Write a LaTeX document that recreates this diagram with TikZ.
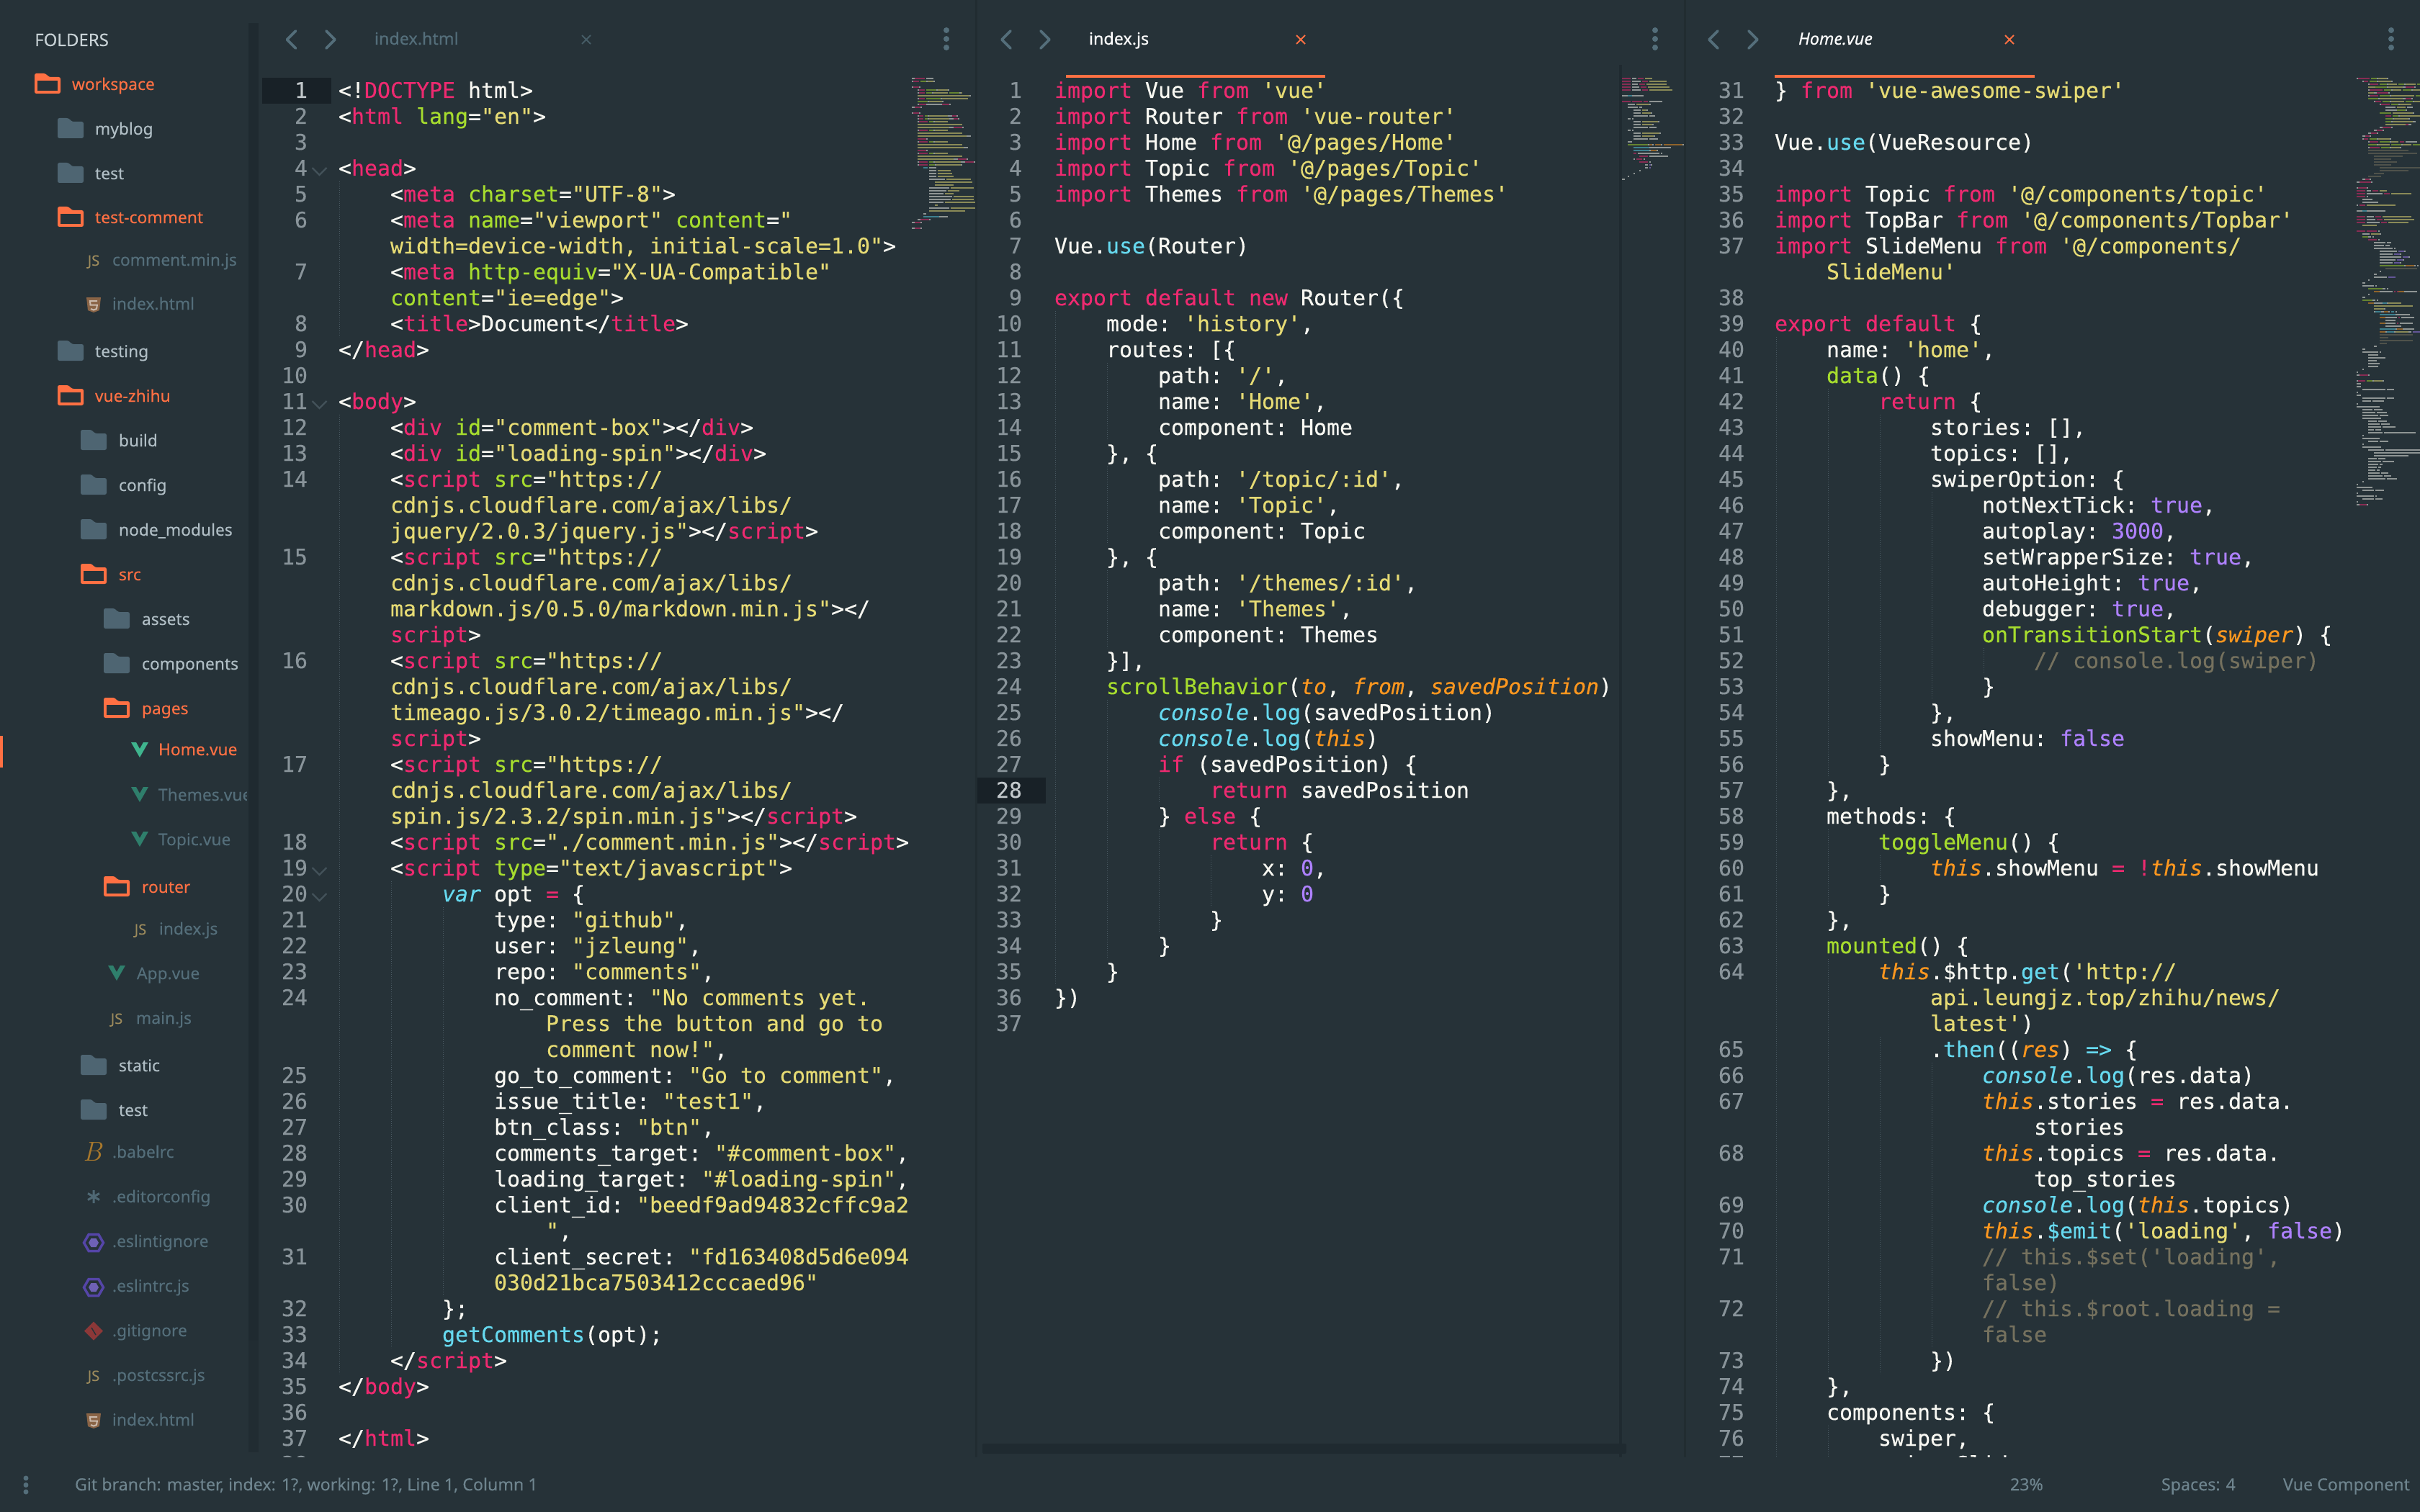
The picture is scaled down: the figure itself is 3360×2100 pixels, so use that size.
\documentclass[tikz,border=0pt]{standalone}
\usepackage{fontspec}
\newfontfamily\codefont{DejaVu Sans Mono}[RawFeature={embolden=0.35}]
\newfontfamily\uifont{Noto Sans}[RawFeature={embolden=0.2}]
\definecolor{bgc}{HTML}{263238}
\definecolor{kwPink}{HTML}{EE2A70}
\definecolor{atGreen}{HTML}{A6DC2E}
\definecolor{stYellow}{HTML}{E6DB74}
\definecolor{fnCyan}{HTML}{66D9EF}
\definecolor{nmPurple}{HTML}{AE81FF}
\definecolor{prOrange}{HTML}{FD971F}
\definecolor{cmGray}{HTML}{75715E}
\definecolor{whText}{HTML}{F8F8F2}
\definecolor{numGray}{HTML}{89949A}
\definecolor{numHi}{HTML}{C2C8CB}
\definecolor{accent}{HTML}{FF7043}
\definecolor{folderG}{HTML}{4E6572}
\definecolor{labelF}{HTML}{B0BEC5}
\definecolor{labelD}{HTML}{546E7A}
\definecolor{hiLine}{HTML}{182127}
\definecolor{barDark}{HTML}{1F2A30}
\definecolor{guideC}{HTML}{4A5A63}
\definecolor{mmK}{HTML}{E0286C}
\definecolor{mmG}{HTML}{9FD02C}
\definecolor{mmY}{HTML}{E6DB74}
\definecolor{mmC}{HTML}{55C8DF}
\definecolor{mmP}{HTML}{9C78F0}
\definecolor{mmO}{HTML}{F09020}
\definecolor{mmD}{HTML}{75715E}
\definecolor{mmW}{HTML}{F0F0EA}
\definecolor{mmS}{HTML}{263238}
\newcommand\cK[1]{\textcolor{kwPink}{#1}}
\newcommand\cA[1]{\textcolor{atGreen}{#1}}
\newcommand\cS[1]{\textcolor{stYellow}{#1}}
\newcommand\cF[1]{\textcolor{fnCyan}{#1}}
\newcommand\cN[1]{\textcolor{nmPurple}{#1}}
\newcommand\cO[1]{\textcolor{prOrange}{\itshape #1}}
\newcommand\cC[1]{\textcolor{cmGray}{#1}}
\newcommand\cI[1]{\textcolor{fnCyan}{\itshape #1}}
\newcounter{codeno}
\newcounter{sideno}
\newcount\mmR
\newcount\mmX
\tikzset{
  codetext/.style={anchor=base west,inner sep=0pt,outer sep=0pt,text=whText,
    font=\codefont\fontsize{29.9}{36}\selectfont\frenchspacing},
  numtext/.style={anchor=base east,inner sep=0pt,outer sep=0pt,text=numGray,
    font=\codefont\fontsize{29.9}{36}\selectfont},
  sidetext/.style={anchor=base west,inner sep=0pt,outer sep=0pt,
    font=\uifont\fontsize{22.8}{28}\selectfont},
  folderlabel/.style={sidetext,text=labelF},
  openlabel/.style={sidetext,text=accent},
  filelabel/.style={sidetext,text=labelD},
  activelabel/.style={sidetext,text=accent},
  tabtext/.style={anchor=base west,inner sep=0pt,outer sep=0pt,
    font=\uifont\fontsize{23.3}{28}\selectfont},
  statustext/.style={anchor=base west,inner sep=0pt,outer sep=0pt,text=labelD!85!white,
    font=\uifont\fontsize{23.2}{28}\selectfont},
  chevron/.style={draw=labelD,line width=3.8pt,line cap=round,line join=round},
  guide/.style={draw=guideC,line width=1pt,dash pattern=on 1pt off 2pt},
  dotmark/.style={fill=labelD},
  foldmark/.style={draw=guideC!80!bgc,line width=2.2pt},
}
\newcommand\CL[3]{\stepcounter{codeno}\node[codetext] (code\arabic{codeno}) at (\paneX+18*#2,136+36*#1) {#3};}
\newcommand\Guide[3]{\draw[guide] (\paneX+1+18*#1,108+36*#2) -- (\paneX+1+18*#1,144+36*#3);}
\newcommand\FolderG[2]{\fill[folderG,rounded corners=2.5pt] (#1,#2-23) -- (#1+15,#2-23) -- (#1+20,#2-18) -- (#1+36,#2-18) -- (#1+36,#2+5) -- (#1,#2+5) -- cycle;}
\newcommand\FolderO[2]{\fill[accent,rounded corners=2.5pt] (#1,#2-23) -- (#1+15,#2-23) -- (#1+20,#2-18) -- (#1+36,#2-18) -- (#1+36,#2+5) -- (#1,#2+5) -- cycle;
  \fill[bgc] (#1+4,#2-13) rectangle (#1+32,#2+1);}
\newcommand\SideG[4]{\FolderG{#1}{#3}\stepcounter{sideno}\node[folderlabel] (side\arabic{sideno}) at (#2,#3) {#4};}
\newcommand\SideO[4]{\FolderO{#1}{#3}\stepcounter{sideno}\node[openlabel] (side\arabic{sideno}) at (#2,#3) {#4};}
\newcommand\SideF[3]{\stepcounter{sideno}\node[filelabel] (side\arabic{sideno}) at (#1,#2) {#3};}
\newcommand\IconJS[2]{\stepcounter{sideno}\node[anchor=base,inner sep=0pt,text=jsIcon,font=\uifont\bfseries\fontsize{20}{24}\selectfont] (side\arabic{sideno}) at (#1,#2) {JS};}
\definecolor{jsIcon}{HTML}{9C8A5C}
\definecolor{htmlIcon}{HTML}{8A6446}
\definecolor{vueA}{HTML}{3FB58E}
\definecolor{vueB}{HTML}{2F7F6C}
\definecolor{eslintC}{HTML}{5545A8}
\definecolor{gitC}{HTML}{8C3838}
\definecolor{babelC}{HTML}{A8782C}
\newcommand\IconHTML[2]{\fill[htmlIcon] (#1-10,#2-17) -- (#1+10,#2-17) -- (#1+8,#2+1) -- (#1,#2+4) -- (#1-8,#2+1) -- cycle;
  \draw[line width=2pt,color=htmlIcon!45!white] (#1+5,#2-12) -- (#1-5,#2-12) -- (#1-4.5,#2-6.5) -- (#1+5,#2-6.5) -- (#1+4,#2-1) -- (#1,#2+.5) -- (#1-4,#2-1);}
\newcommand\IconVue[3]{\fill[#3] (#1-12,#2-19) -- (#1-5,#2-19) -- (#1,#2-10) -- (#1+5,#2-19) -- (#1+12,#2-19) -- (#1,#2+2) -- cycle;}
\newcommand\IconESL[2]{\draw[eslintC,line width=3.5pt] (#1-13.5,#2-6) -- (#1-6.8,#2-17.5) -- (#1+6.8,#2-17.5) -- (#1+13.5,#2-6) -- (#1+6.8,#2+5.5) -- (#1-6.8,#2+5.5) -- cycle;
  \fill[eslintC!85!white] (#1-7,#2-6) -- (#1-3.5,#2-12) -- (#1+3.5,#2-12) -- (#1+7,#2-6) -- (#1+3.5,#2) -- (#1-3.5,#2) -- cycle;}
\newcommand\IconGit[2]{\fill[gitC] (#1-13,#2-7.5) -- (#1,#2-20.5) -- (#1+13,#2-7.5) -- (#1,#2+5.5) -- cycle;
  \draw[bgc,line width=1.5pt] (#1-3,#2-12) -- (#1+3,#2-2);}
\newcommand\IconStar[2]{\draw[labelD!90!bgc,line width=3pt] (#1,#2-17) -- (#1,#2+1) (#1-8,#2-12.5) -- (#1+8,#2-3.5) (#1-8,#2-3.5) -- (#1+8,#2-12.5);}
\newcommand\Chev[2]{\draw[chevron] (#1+6,43) -- (#1-6,55) -- (#1+6,67); \draw[chevron] (#2-6,43) -- (#2+6,55) -- (#2-6,67);}
\newcommand\ThreeDots[3]{\fill[dotmark] (#1,#2) circle (4) (#1,#2+12) circle (4) (#1,#2+24) circle (4);}
\newcommand\TabX[2]{\draw[#2,line width=2pt] (#1-6,49) -- (#1+6,61) (#1-6,61) -- (#1+6,49);}
\newcommand\Fold[1]{\draw[foldmark] (433.5,233+36*#1-108) -- (443.5,243+36*#1-108) -- (453.5,233+36*#1-108);}
\newcommand\mmline[2]{\global\mmX=\numexpr\mmOx+2*#1\relax
  \foreach \cc/\ll in {#2}{\fill[color=mm\cc] (\the\mmX,\the\numexpr\mmOy+4*\mmR\relax) rectangle ++(2*\ll,2.4);
    \global\advance\mmX by \numexpr 2*\ll\relax}
  \global\advance\mmR by 1\relax}
\newcommand\mmskip[1]{\global\advance\mmR by #1\relax}
\newcommand\mmstart[1]{\def\mmOx{#1}\def\mmOy{108}\global\mmR=0\relax}
\begin{document}
\begin{tikzpicture}[x=1pt,y=-1pt]
\useasboundingbox (0,0) rectangle (3360,2100);
\fill[bgc] (0,0) rectangle (3360,2100);
% pane separators and shadows
\fill[bgc!88!black] (1354,0) rectangle (1357,2024);
\fill[bgc!88!black] (2338,0) rectangle (2341,2024);
\fill[barDark] (2248,90) rectangle (2252,2024);
% line highlights
\fill[hiLine] (364,108) rectangle (460,144);
\fill[hiLine] (1357,1080) rectangle (1452,1116);
% ----- minimaps
\begin{scope}[opacity=.52]
\mmstart{1266}
\mmline{0}{W/2,K/7,S/1,W/5}
\mmline{0}{W/1,K/4,S/1,G/4,W/1,Y/4,W/1}
\mmskip{1}
\mmline{0}{W/1,K/4,W/1}
\mmline{4}{W/1,K/4,S/1,G/7,W/1,Y/7,W/1}
\mmline{4}{W/1,K/4,S/1,G/4,W/1,Y/10,S/1,G/7,W/1,Y/1}
\mmline{4}{Y/36,W/1}
\mmline{4}{W/1,K/4,S/1,G/10,W/1,Y/18}
\mmline{4}{G/7,W/1,Y/9,W/1}
\mmline{4}{W/1,K/5,W/11,K/5,W/1}
\mmline{0}{W/2,K/4,W/1}
\mmskip{1}
\mmline{0}{W/1,K/4,W/1}
\mmline{4}{W/1,K/3,S/1,G/2,W/1,Y/13,W/3,K/3,W/1}
\mmline{4}{W/1,K/3,S/1,G/2,W/1,Y/14,W/3,K/3,W/1}
\mmline{4}{W/1,K/6,S/1,G/3,W/1,Y/9}
\mmline{4}{Y/31}
\mmline{4}{Y/22,W/3,K/6,W/1}
\mmline{4}{W/1,K/6,S/1,G/3,W/1,Y/9}
\mmline{4}{Y/31}
\mmline{4}{Y/34,W/3}
\mmline{4}{K/6,W/1}
\mmline{4}{W/1,K/6,S/1,G/3,W/1,Y/9}
\mmline{4}{Y/31}
\mmline{4}{Y/32,W/3}
\mmline{4}{K/6,W/1}
\mmline{4}{W/1,K/6,S/1,G/3,W/1,Y/9}
\mmline{4}{Y/31}
\mmline{4}{Y/25,W/3,K/6,W/1}
\mmline{4}{W/1,K/6,S/1,G/3,W/1,Y/18,W/3,K/6,W/1}
\mmline{4}{W/1,K/6,S/1,G/4,W/1,Y/17,W/1}
\mmline{8}{C/3,S/1,W/5}
\mmline{12}{W/5,S/1,Y/9}
\mmline{12}{W/5,S/1,Y/10}
\mmline{12}{W/5,S/1,Y/11}
\mmline{12}{W/11,S/1,Y/17}
\mmline{16}{Y/26}
\mmline{16}{Y/13}
\mmline{12}{W/14,S/1,Y/16}
\mmline{12}{W/12,S/1,Y/8}
\mmline{12}{W/10,S/1,Y/6}
\mmline{12}{W/16,S/1,Y/14}
\mmline{12}{W/15,S/1,Y/15}
\mmline{12}{W/10,S/1,Y/21}
\mmline{16}{Y/2}
\mmline{12}{W/14,S/1,Y/17}
\mmline{12}{Y/25}
\mmline{8}{W/2}
\mmline{8}{C/11,W/6}
\mmline{4}{W/2,K/6,W/1}
\mmline{0}{W/2,K/4,W/1}
\mmskip{1}
\mmline{0}{W/2,K/4,W/1}
% pane 2
\mmstart{2252}
\mmline{0}{K/6,S/1,W/3,S/1,K/4,S/1,Y/5}
\mmline{0}{K/6,S/1,W/6,S/1,K/4,S/1,Y/12}
\mmline{0}{K/6,S/1,W/4,S/1,K/4,S/1,Y/14}
\mmline{0}{K/6,S/1,W/5,S/1,K/4,S/1,Y/15}
\mmline{0}{K/6,S/1,W/6,S/1,K/4,S/1,Y/16}
\mmskip{1}
\mmline{0}{W/4,C/3,W/8}
\mmskip{1}
\mmline{0}{K/6,S/1,K/7,S/1,K/3,S/1,W/9}
\mmline{4}{W/5,S/1,Y/9,W/1}
\mmline{4}{W/7,S/1,W/2}
\mmline{8}{W/5,S/1,Y/3,W/1}
\mmline{8}{W/5,S/1,Y/6,W/1}
\mmline{8}{W/10,S/1,W/4}
\mmline{4}{W/2,S/1,W/1}
\mmline{8}{W/5,S/1,Y/11,W/1}
\mmline{8}{W/5,S/1,Y/7,W/1}
\mmline{8}{W/10,S/1,W/5}
\mmline{4}{W/2,S/1,W/1}
\mmline{8}{W/5,S/1,Y/12,W/1}
\mmline{8}{W/5,S/1,Y/8,W/1}
\mmline{8}{W/10,S/1,W/6}
\mmline{4}{W/3}
\mmline{4}{G/14,W/1,O/2,W/1,S/1,O/4,W/1,S/1,O/13,W/1}
\mmline{8}{C/11,W/15}
\mmline{8}{C/11,W/1,O/4,W/1}
\mmline{8}{K/2,S/1,W/15,S/1,W/1}
\mmline{12}{K/6,S/1,W/13}
\mmline{8}{W/1,S/1,K/4,S/1,W/1}
\mmline{12}{K/6,S/1,W/1}
\mmline{16}{W/2,S/1,P/1,W/1}
\mmline{16}{W/2,S/1,P/1}
\mmline{12}{W/1}
\mmline{8}{W/1}
\mmline{4}{W/1}
\mmline{0}{W/2}
% pane 3
\mmstart{3272}
\mmline{0}{W/1,K/8,S/1,G/4,W/1,Y/6,W/1}
\mmline{4}{W/1,K/3,S/1,G/5,W/1,Y/9,W/1}
\mmline{8}{W/1,K/6,S/1,G/5,W/1,Y/6,S/1,G/4,W/1,Y/7,S/1,G/5}
\mmline{8}{Y/5,G/8,W/1,Y/10,W/2,K/6,W/1}
\mmline{8}{W/1,K/9,S/1,G/5,W/1,Y/6,S/1,G/6,W/1,Y/5}
\mmline{8}{Y/4,W/2,K/8,W/1}
\mmline{8}{W/1,K/6,S/1,G/7,W/1,Y/16,S/1,G/6}
\mmline{8}{G/7,W/1,Y/16,W/2,K/4,W/1}
\mmline{12}{W/1,K/4,S/1,G/5,W/1,Y/9,S/1,G/5,W/1,Y/5}
\mmline{16}{W/1,K/6,S/1,G/5,W/1,Y/8}
\mmline{20}{W/7,S/1,Y/6,S/1,W/4}
\mmline{20}{W/8,G/6,W/1}
\mmline{16}{G/8,S/1,Y/14,W/1}
\mmline{20}{K/4,S/1,G/4,W/1,Y/14}
\mmline{20}{G/5,W/1,Y/10,W/1}
\mmline{20}{G/4,W/1,Y/14,W/2}
\mmline{20}{Y/14,K/2,W/2}
\mmline{16}{W/2,K/6,W/1}
\mmline{12}{W/2,K/4,W/1}
\mmline{8}{W/2,K/4,W/1}
\mmline{4}{W/2,K/3,W/1}
\mmline{4}{W/1,K/3,S/1,G/5,W/1,Y/8,W/1}
\mmline{8}{W/1,K/6,S/1,G/7,W/1,Y/5,S/1,K/3,S/1,W/8}
\mmline{8}{G/6,W/1,Y/8,S/1,G/7,W/1,Y/6,S/1,G/5}
\mmline{8}{W/1,K/7,S/1,G/6,W/1,Y/6,W/1}
\mmline{8}{D/28}
\mmline{8}{D/34}
\mmline{12}{D/20}
\mmline{12}{D/12}
\mmline{12}{D/16}
\mmline{12}{D/12}
\mmline{16}{D/30}
\mmline{16}{D/20}
\mmline{12}{D/7}
\mmline{8}{D/9}
\mmline{4}{W/2,K/3,W/1}
\mmline{0}{W/2,K/8,W/1}
\mmskip{1}
\mmline{0}{W/1,K/6,W/1}
\mmline{0}{K/6,S/1,W/3,S/1,K/4,S/1,Y/5}
\mmline{0}{K/6,S/1,W/11,S/1,K/4,S/1,Y/14}
\mmline{0}{K/6,S/1,W/1}
\mmline{4}{W/7}
\mmline{4}{W/11}
% code rows of the visible part
\mmline{0}{W/1,S/1,K/4,S/1,Y/20}
\mmskip{1}
\mmline{0}{W/4,C/3,W/13}
\mmskip{1}
\mmline{0}{K/6,S/1,W/5,S/1,K/4,S/1,Y/20}
\mmline{0}{K/6,S/1,W/6,S/1,K/4,S/1,Y/21}
\mmline{0}{K/6,S/1,W/9,S/1,K/4,S/1,Y/14}
\mmline{4}{Y/10}
\mmskip{1}
\mmline{0}{K/6,S/1,K/7,S/1,W/1}
\mmline{4}{W/5,S/1,Y/6,W/1}
\mmline{4}{G/4,W/2,S/1,W/1}
\mmline{8}{K/6,S/1,W/1}
\mmline{12}{W/8,S/1,W/3}
\mmline{12}{W/7,S/1,W/3}
\mmline{12}{W/13,S/1,W/1}
\mmline{16}{W/12,S/1,P/4,W/1}
\mmline{16}{W/9,S/1,P/4,W/1}
\mmline{16}{W/15,S/1,P/4,W/1}
\mmline{16}{W/11,S/1,P/4,W/1}
\mmline{16}{W/9,S/1,P/4,W/1}
\mmline{16}{G/17,W/1,O/6,W/1,S/1,W/1}
\mmline{20}{D/22}
\mmline{16}{W/1}
\mmline{12}{W/2}
\mmline{12}{W/9,S/1,P/5}
\mmline{8}{W/1}
\mmline{4}{W/2}
\mmline{4}{W/8,S/1,W/1}
\mmline{8}{G/10,W/2,S/1,W/1}
\mmline{12}{O/4,W/9,S/1,K/1,S/1,K/1,O/4,W/9}
\mmline{8}{W/1}
\mmline{4}{W/2}
\mmline{4}{G/7,W/2,S/1,W/1}
\mmline{8}{O/4,W/6,C/3,W/1,Y/9}
\mmline{12}{Y/27}
\mmline{12}{Y/7,W/1}
\mmline{12}{W/1,C/4,W/2,O/3,W/1,S/1,C/2,S/1,W/1}
\mmline{16}{C/11,W/10}
\mmline{16}{O/4,W/8,S/1,K/1,S/1,W/9}
\mmline{20}{W/7}
\mmline{16}{O/4,W/7,S/1,K/1,S/1,W/9}
\mmline{20}{W/11}
\mmline{16}{C/11,W/1,O/4,W/8}
\mmline{16}{O/4,W/1,C/5,W/1,Y/9,W/2,S/1,P/5,W/1}
\mmline{16}{D/23}
\mmline{16}{D/6}
\mmline{16}{D/23}
\mmline{16}{D/5}
\mmline{12}{W/2}
\mmline{4}{W/2}
\mmline{4}{W/11,S/1,W/1}
\mmline{8}{W/7}
\mmline{8}{W/12}
\mmline{8}{W/6}
\mmline{8}{W/8}
\mmline{8}{W/7}
\mmline{4}{W/1}
\mmline{0}{W/1}
\mmline{0}{W/2,K/6,W/1}
\mmskip{1}
\mmline{0}{W/1,K/5,S/1,G/4,W/1,Y/6,W/1}
\mmline{0}{W/3}
\mmline{0}{W/3}
\mmline{4}{W/16,S/1,W/5}
\mmline{0}{W/1}
\mmline{0}{W/3}
\mmline{4}{W/16,S/1,W/5}
\mmline{4}{W/6,S/1,W/8}
\mmline{0}{W/1}
\mmline{0}{W/16}
\mmline{4}{W/7,S/1,W/6}
\mmline{4}{W/9,S/1,W/7}
\mmline{4}{W/11,S/1,W/6}
\mmline{4}{W/13}
\mmline{8}{W/6,S/1,W/6}
\mmline{8}{W/8,S/1,W/6}
\mmline{8}{W/9,S/1,W/9}
\mmline{8}{W/4,S/1,W/4}
\mmline{8}{W/10,S/1,W/22}
\mmline{4}{W/1}
\mmline{4}{W/12}
\mmline{8}{W/7,S/1,W/6}
\mmline{4}{W/1}
\mmline{4}{W/13}
\mmline{8}{W/11,S/1,W/26}
\mmline{12}{W/32}
\mmline{12}{W/24}
\mmline{8}{W/6,S/1,W/5}
\mmline{8}{W/9,S/1,W/8}
\mmline{8}{W/7,S/1,W/2}
\mmline{8}{W/6,S/1,W/2}
\mmline{8}{W/5,S/1,W/2}
\mmline{8}{W/8,S/1,W/5}
\mmline{8}{W/10,S/1,W/5}
\mmline{8}{W/12,S/1,W/7}
\mmline{4}{W/1}
\mmline{0}{W/1}
\mmline{0}{W/11}
\mmline{4}{W/8,S/1,W/6}
\mmline{0}{W/1}
\mmline{0}{W/12,S/1,W/1}
\mmline{4}{W/8,S/1,W/5}
\mmline{0}{W/1}
\mmline{0}{W/2,K/5,W/1}
\end{scope}
% ----- indent guides
\def\paneX{470}
\Guide{0}{4}{9}\Guide{0}{13}{49}\Guide{4}{31}{48}\Guide{8}{32}{46}
\def\paneX{1464}
\Guide{0}{9}{34}\Guide{4}{11}{13}\Guide{4}{15}{17}\Guide{4}{19}{21}\Guide{4}{24}{33}
\Guide{8}{27}{27}\Guide{8}{29}{32}\Guide{12}{30}{31}
\def\paneX{2465}
\Guide{0}{10}{53}\Guide{4}{12}{26}\Guide{4}{29}{31}\Guide{4}{34}{49}\Guide{4}{52}{53}
\Guide{8}{13}{25}\Guide{8}{30}{30}\Guide{8}{37}{49}
\Guide{12}{16}{23}\Guide{12}{38}{48}\Guide{16}{22}{22}
% ----- fold marks
\Fold{3}\Fold{12}\Fold{30}\Fold{31}
% ----- pane 1 numbers
\foreach \n/\r in {2/1,3/2,4/3,5/4,6/5,7/7,8/9,9/10,10/11,11/12,12/13,13/14,14/15,15/18,16/22,17/26,18/29,19/30,20/31,21/32,22/33,23/34,24/35,25/38,26/39,27/40,28/41,29/42,30/43,31/45,32/47,33/48,34/49,35/50,36/51,37/52,38/53}
  {\node[numtext] (lnA\n) at (427,136+36*\r) {\n};}
\node[numtext,text=numHi] (lnA1) at (427,136) {1};
% ----- pane 2 numbers
\foreach \n [evaluate=\n as \r using int(\n-1)] in {1,...,27,29,30,...,37}
  {\node[numtext] (lnB\n) at (1419,136+36*\r) {\n};}
\node[numtext,text=numHi] (lnB28) at (1419,136+36*27) {28};
% ----- pane 3 numbers
\foreach \n/\r in {31/0,32/1,33/2,34/3,35/4,36/5,37/6,38/8,39/9,40/10,41/11,42/12,43/13,44/14,45/15,46/16,47/17,48/18,49/19,50/20,51/21,52/22,53/23,54/24,55/25,56/26,57/27,58/28,59/29,60/30,61/31,62/32,63/33,64/34,65/37,66/38,67/39,68/41,69/43,70/44,71/45,72/47,73/49,74/50,75/51,76/52,77/53}
  {\node[numtext] (lnC\n) at (2422,136+36*\r) {\n};}
% ----- pane 1 code
\def\paneX{470}
\CL{0}{0}{<!\cK{DOCTYPE} html>}
\CL{1}{0}{<\cK{html} \cA{lang}=\cS{"en"}>}
\CL{3}{0}{<\cK{head}>}
\CL{4}{4}{<\cK{meta} \cA{charset}=\cS{"UTF-8"}>}
\CL{5}{4}{<\cK{meta} \cA{name}=\cS{"viewport"} \cA{content}=\cS{"}}
\CL{6}{4}{\cS{width=device-width, initial-scale=1.0"}>}
\CL{7}{4}{<\cK{meta} \cA{http-equiv}=\cS{"X-UA-Compatible"}}
\CL{8}{4}{\cA{content}=\cS{"ie=edge"}>}
\CL{9}{4}{<\cK{title}>Document</\cK{title}>}
\CL{10}{0}{</\cK{head}>}
\CL{12}{0}{<\cK{body}>}
\CL{13}{4}{<\cK{div} \cA{id}=\cS{"comment-box"}></\cK{div}>}
\CL{14}{4}{<\cK{div} \cA{id}=\cS{"loading-spin"}></\cK{div}>}
\CL{15}{4}{<\cK{script} \cA{src}=\cS{"https://}}
\CL{16}{4}{\cS{cdnjs.cloudflare.com/ajax/libs/}}
\CL{17}{4}{\cS{jquery/2.0.3/jquery.js"}></\cK{script}>}
\CL{18}{4}{<\cK{script} \cA{src}=\cS{"https://}}
\CL{19}{4}{\cS{cdnjs.cloudflare.com/ajax/libs/}}
\CL{20}{4}{\cS{markdown.js/0.5.0/markdown.min.js"}></}
\CL{21}{4}{\cK{script}>}
\CL{22}{4}{<\cK{script} \cA{src}=\cS{"https://}}
\CL{23}{4}{\cS{cdnjs.cloudflare.com/ajax/libs/}}
\CL{24}{4}{\cS{timeago.js/3.0.2/timeago.min.js"}></}
\CL{25}{4}{\cK{script}>}
\CL{26}{4}{<\cK{script} \cA{src}=\cS{"https://}}
\CL{27}{4}{\cS{cdnjs.cloudflare.com/ajax/libs/}}
\CL{28}{4}{\cS{spin.js/2.3.2/spin.min.js"}></\cK{script}>}
\CL{29}{4}{<\cK{script} \cA{src}=\cS{"./comment.min.js"}></\cK{script}>}
\CL{30}{4}{<\cK{script} \cA{type}=\cS{"text/javascript"}>}
\CL{31}{8}{\cI{var} opt \cK{=} \{}
\CL{32}{12}{type: \cS{"github"},}
\CL{33}{12}{user: \cS{"jzleung"},}
\CL{34}{12}{repo: \cS{"comments"},}
\CL{35}{12}{no\_comment: \cS{"No comments yet.}}
\CL{36}{16}{\cS{Press the button and go to}}
\CL{37}{16}{\cS{comment now!"},}
\CL{38}{12}{go\_to\_comment: \cS{"Go to comment"},}
\CL{39}{12}{issue\_title: \cS{"test1"},}
\CL{40}{12}{btn\_class: \cS{"btn"},}
\CL{41}{12}{comments\_target: \cS{"\#comment-box"},}
\CL{42}{12}{loading\_target: \cS{"\#loading-spin"},}
\CL{43}{12}{client\_id: \cS{"beedf9ad94832cffc9a2}}
\CL{44}{16}{\cS{"},}
\CL{45}{12}{client\_secret: \cS{"fd163408d5d6e094}}
\CL{46}{12}{\cS{030d21bca7503412cccaed96"}}
\CL{47}{8}{\};}
\CL{48}{8}{\cF{getComments}(opt);}
\CL{49}{4}{</\cK{script}>}
\CL{50}{0}{</\cK{body}>}
\CL{52}{0}{</\cK{html}>}
% ----- pane 2 code
\def\paneX{1464}
\CL{0}{0}{\cK{import} Vue \cK{from} \cS{'vue'}}
\CL{1}{0}{\cK{import} Router \cK{from} \cS{'vue-router'}}
\CL{2}{0}{\cK{import} Home \cK{from} \cS{'@/pages/Home'}}
\CL{3}{0}{\cK{import} Topic \cK{from} \cS{'@/pages/Topic'}}
\CL{4}{0}{\cK{import} Themes \cK{from} \cS{'@/pages/Themes'}}
\CL{6}{0}{Vue.\cF{use}(Router)}
\CL{8}{0}{\cK{export} \cK{default} \cK{new} Router(\{}
\CL{9}{4}{mode: \cS{'history'},}
\CL{10}{4}{routes: [\{}
\CL{11}{8}{path: \cS{'/'},}
\CL{12}{8}{name: \cS{'Home'},}
\CL{13}{8}{component: Home}
\CL{14}{4}{\}, \{}
\CL{15}{8}{path: \cS{'/topic/:id'},}
\CL{16}{8}{name: \cS{'Topic'},}
\CL{17}{8}{component: Topic}
\CL{18}{4}{\}, \{}
\CL{19}{8}{path: \cS{'/themes/:id'},}
\CL{20}{8}{name: \cS{'Themes'},}
\CL{21}{8}{component: Themes}
\CL{22}{4}{\}],}
\CL{23}{4}{\cA{scrollBehavior}(\cO{to}, \cO{from}, \cO{savedPosition})}
\CL{24}{8}{\cI{console}.\cF{log}(savedPosition)}
\CL{25}{8}{\cI{console}.\cF{log}(\cO{this})}
\CL{26}{8}{\cK{if} (savedPosition) \{}
\CL{27}{12}{\cK{return} savedPosition}
\CL{28}{8}{\} \cK{else} \{}
\CL{29}{12}{\cK{return} \{}
\CL{30}{16}{x: \cN{0},}
\CL{31}{16}{y: \cN{0}}
\CL{32}{12}{\}}
\CL{33}{8}{\}}
\CL{34}{4}{\}}
\CL{35}{0}{\})}
% ----- pane 3 code
\def\paneX{2464}
\CL{0}{0}{\} \cK{from} \cS{'vue-awesome-swiper'}}
\CL{2}{0}{Vue.\cF{use}(VueResource)}
\CL{4}{0}{\cK{import} Topic \cK{from} \cS{'@/components/topic'}}
\CL{5}{0}{\cK{import} TopBar \cK{from} \cS{'@/components/Topbar'}}
\CL{6}{0}{\cK{import} SlideMenu \cK{from} \cS{'@/components/}}
\CL{7}{4}{\cS{SlideMenu'}}
\CL{9}{0}{\cK{export} \cK{default} \{}
\CL{10}{4}{name: \cS{'home'},}
\CL{11}{4}{\cA{data}() \{}
\CL{12}{8}{\cK{return} \{}
\CL{13}{12}{stories: [],}
\CL{14}{12}{topics: [],}
\CL{15}{12}{swiperOption: \{}
\CL{16}{16}{notNextTick: \cN{true},}
\CL{17}{16}{autoplay: \cN{3000},}
\CL{18}{16}{setWrapperSize: \cN{true},}
\CL{19}{16}{autoHeight: \cN{true},}
\CL{20}{16}{debugger: \cN{true},}
\CL{21}{16}{\cA{onTransitionStart}(\cO{swiper}) \{}
\CL{22}{20}{\cC{// console.log(swiper)}}
\CL{23}{16}{\}}
\CL{24}{12}{\},}
\CL{25}{12}{showMenu: \cN{false}}
\CL{26}{8}{\}}
\CL{27}{4}{\},}
\CL{28}{4}{methods: \{}
\CL{29}{8}{\cA{toggleMenu}() \{}
\CL{30}{12}{\cO{this}.showMenu \cK{=} \cK{!}\cO{this}.showMenu}
\CL{31}{8}{\}}
\CL{32}{4}{\},}
\CL{33}{4}{\cA{mounted}() \{}
\CL{34}{8}{\cO{this}.\$http.\cF{get}(\cS{'http://}}
\CL{35}{12}{\cS{api.leungjz.top/zhihu/news/}}
\CL{36}{12}{\cS{latest'})}
\CL{37}{12}{.\cF{then}((\cO{res}) \cF{=>} \{}
\CL{38}{16}{\cI{console}.\cF{log}(res.data)}
\CL{39}{16}{\cO{this}.stories \cK{=} res.data.}
\CL{40}{20}{stories}
\CL{41}{16}{\cO{this}.topics \cK{=} res.data.}
\CL{42}{20}{top\_stories}
\CL{43}{16}{\cI{console}.\cF{log}(\cO{this}.topics)}
\CL{44}{16}{\cO{this}.\cF{\$emit}(\cS{'loading'}, \cN{false})}
\CL{45}{16}{\cC{// this.\$set('loading',}}
\CL{46}{16}{\cC{false)}}
\CL{47}{16}{\cC{// this.\$root.loading =}}
\CL{48}{16}{\cC{false}}
\CL{49}{12}{\})}
\CL{50}{4}{\},}
\CL{51}{4}{components: \{}
\CL{52}{8}{swiper,}
\CL{53}{8}{swiperSlide,}
% ----- cover below the clip line, status bar
\fill[bgc] (0,2024) rectangle (3360,2100);
\fill[barDark,rounded corners=2pt] (1364,2005) rectangle (2258,2019);
% ----- sidebar
\node[anchor=base west,inner sep=0pt,text=labelF!70!white,font=\uifont\fontsize{24}{28}\selectfont] (foldersTitle) at (48,64) {FOLDERS};
\fill[accent] (0,1022) rectangle (4,1066);
\SideO{48}{100}{125}{workspace}
\SideG{80}{132}{187}{myblog}
\SideG{80}{132}{249}{test}
\SideO{80}{132}{310}{test-comment}
\IconJS{130}{369}\SideF{156}{369}{comment.min.js}
\IconHTML{130}{430}\SideF{156}{430}{index.html}
\SideG{80}{132}{496}{testing}
\SideO{80}{132}{558}{vue-zhihu}
\SideG{112}{165}{620}{build}
\SideG{112}{165}{682}{config}
\SideG{112}{165}{744}{node\_modules}
\SideO{112}{165}{806}{src}
\SideG{144}{197}{868}{assets}
\SideG{144}{197}{930}{components}
\SideO{144}{197}{992}{pages}
\IconVue{194}{1050}{vueA}\stepcounter{sideno}\node[activelabel] (side\arabic{sideno}) at (220,1049) {Home.vue};
\IconVue{194}{1112}{vueB}\SideF{220}{1112}{Themes.vue}
\IconVue{194}{1174}{vueB}\SideF{220}{1174}{Topic.vue}
\SideO{144}{197}{1240}{router}
\IconJS{195}{1298}\SideF{221}{1298}{index.js}
\IconVue{162}{1360}{vueB}\SideF{190}{1360}{App.vue}
\IconJS{162}{1422}\SideF{189}{1422}{main.js}
\SideG{112}{165}{1488}{static}
\SideG{112}{165}{1550}{test}
\stepcounter{sideno}\node[anchor=base,inner sep=0pt,text=babelC,font=\rmfamily\itshape\fontsize{38}{40}\selectfont] (side\arabic{sideno}) at (129,1612) {B};
\SideF{156}{1608}{.babelrc}
\IconStar{130}{1670}\SideF{156}{1670}{.editorconfig}
\IconESL{130}{1732}\SideF{156}{1732}{.eslintignore}
\IconESL{130}{1794}\SideF{156}{1794}{.eslintrc.js}
\IconGit{130}{1856}\SideF{156}{1856}{.gitignore}
\IconJS{130}{1918}\SideF{156}{1918}{.postcssrc.js}
\IconHTML{130}{1980}\SideF{156}{1980}{index.html}
% sidebar scrollbar (clips long names)
\fill[bgc] (343,0) rectangle (345,2017);
\fill[barDark] (345,32) rectangle (359,1862);
\fill[barDark!70!bgc] (345,1862) rectangle (359,2017);
% ----- tab bars
\Chev{404.5}{459}
\Chev{1397}{1451}
\Chev{2379}{2434}
\node[tabtext,text=labelD] (tabA) at (520,62) {index.html};
\TabX{814}{labelD!70!bgc}
\node[tabtext,text=white] (tabB) at (1512,62) {index.js};
\TabX{1806}{accent}
\fill[accent] (1480,104) rectangle (1840,108);
\node[tabtext,text=white,font=\uifont\itshape\fontsize{23.3}{28}\selectfont] (tabC) at (2497,62) {Home.vue};
\TabX{2790}{accent}
\fill[accent] (2464,104) rectangle (2825,108);
\ThreeDots{1314}{42}{}
\ThreeDots{2298}{42}{}
\ThreeDots{3320}{42}{}
% ----- status bar
\fill[dotmark] (36,2053) circle (3.5) (36,2062.5) circle (3.5) (36,2072) circle (3.5);
\node[statustext] (stA) at (104,2070) {Git branch: master, index: 1?, working: 1?, Line 1, Column 1};
\node[statustext] (stB) at (2791,2070) {23\%};
\node[statustext] (stC) at (3001,2070) {Spaces: 4};
\node[statustext] (stD) at (3170,2070) {Vue Component};
\end{tikzpicture}
\end{document}
